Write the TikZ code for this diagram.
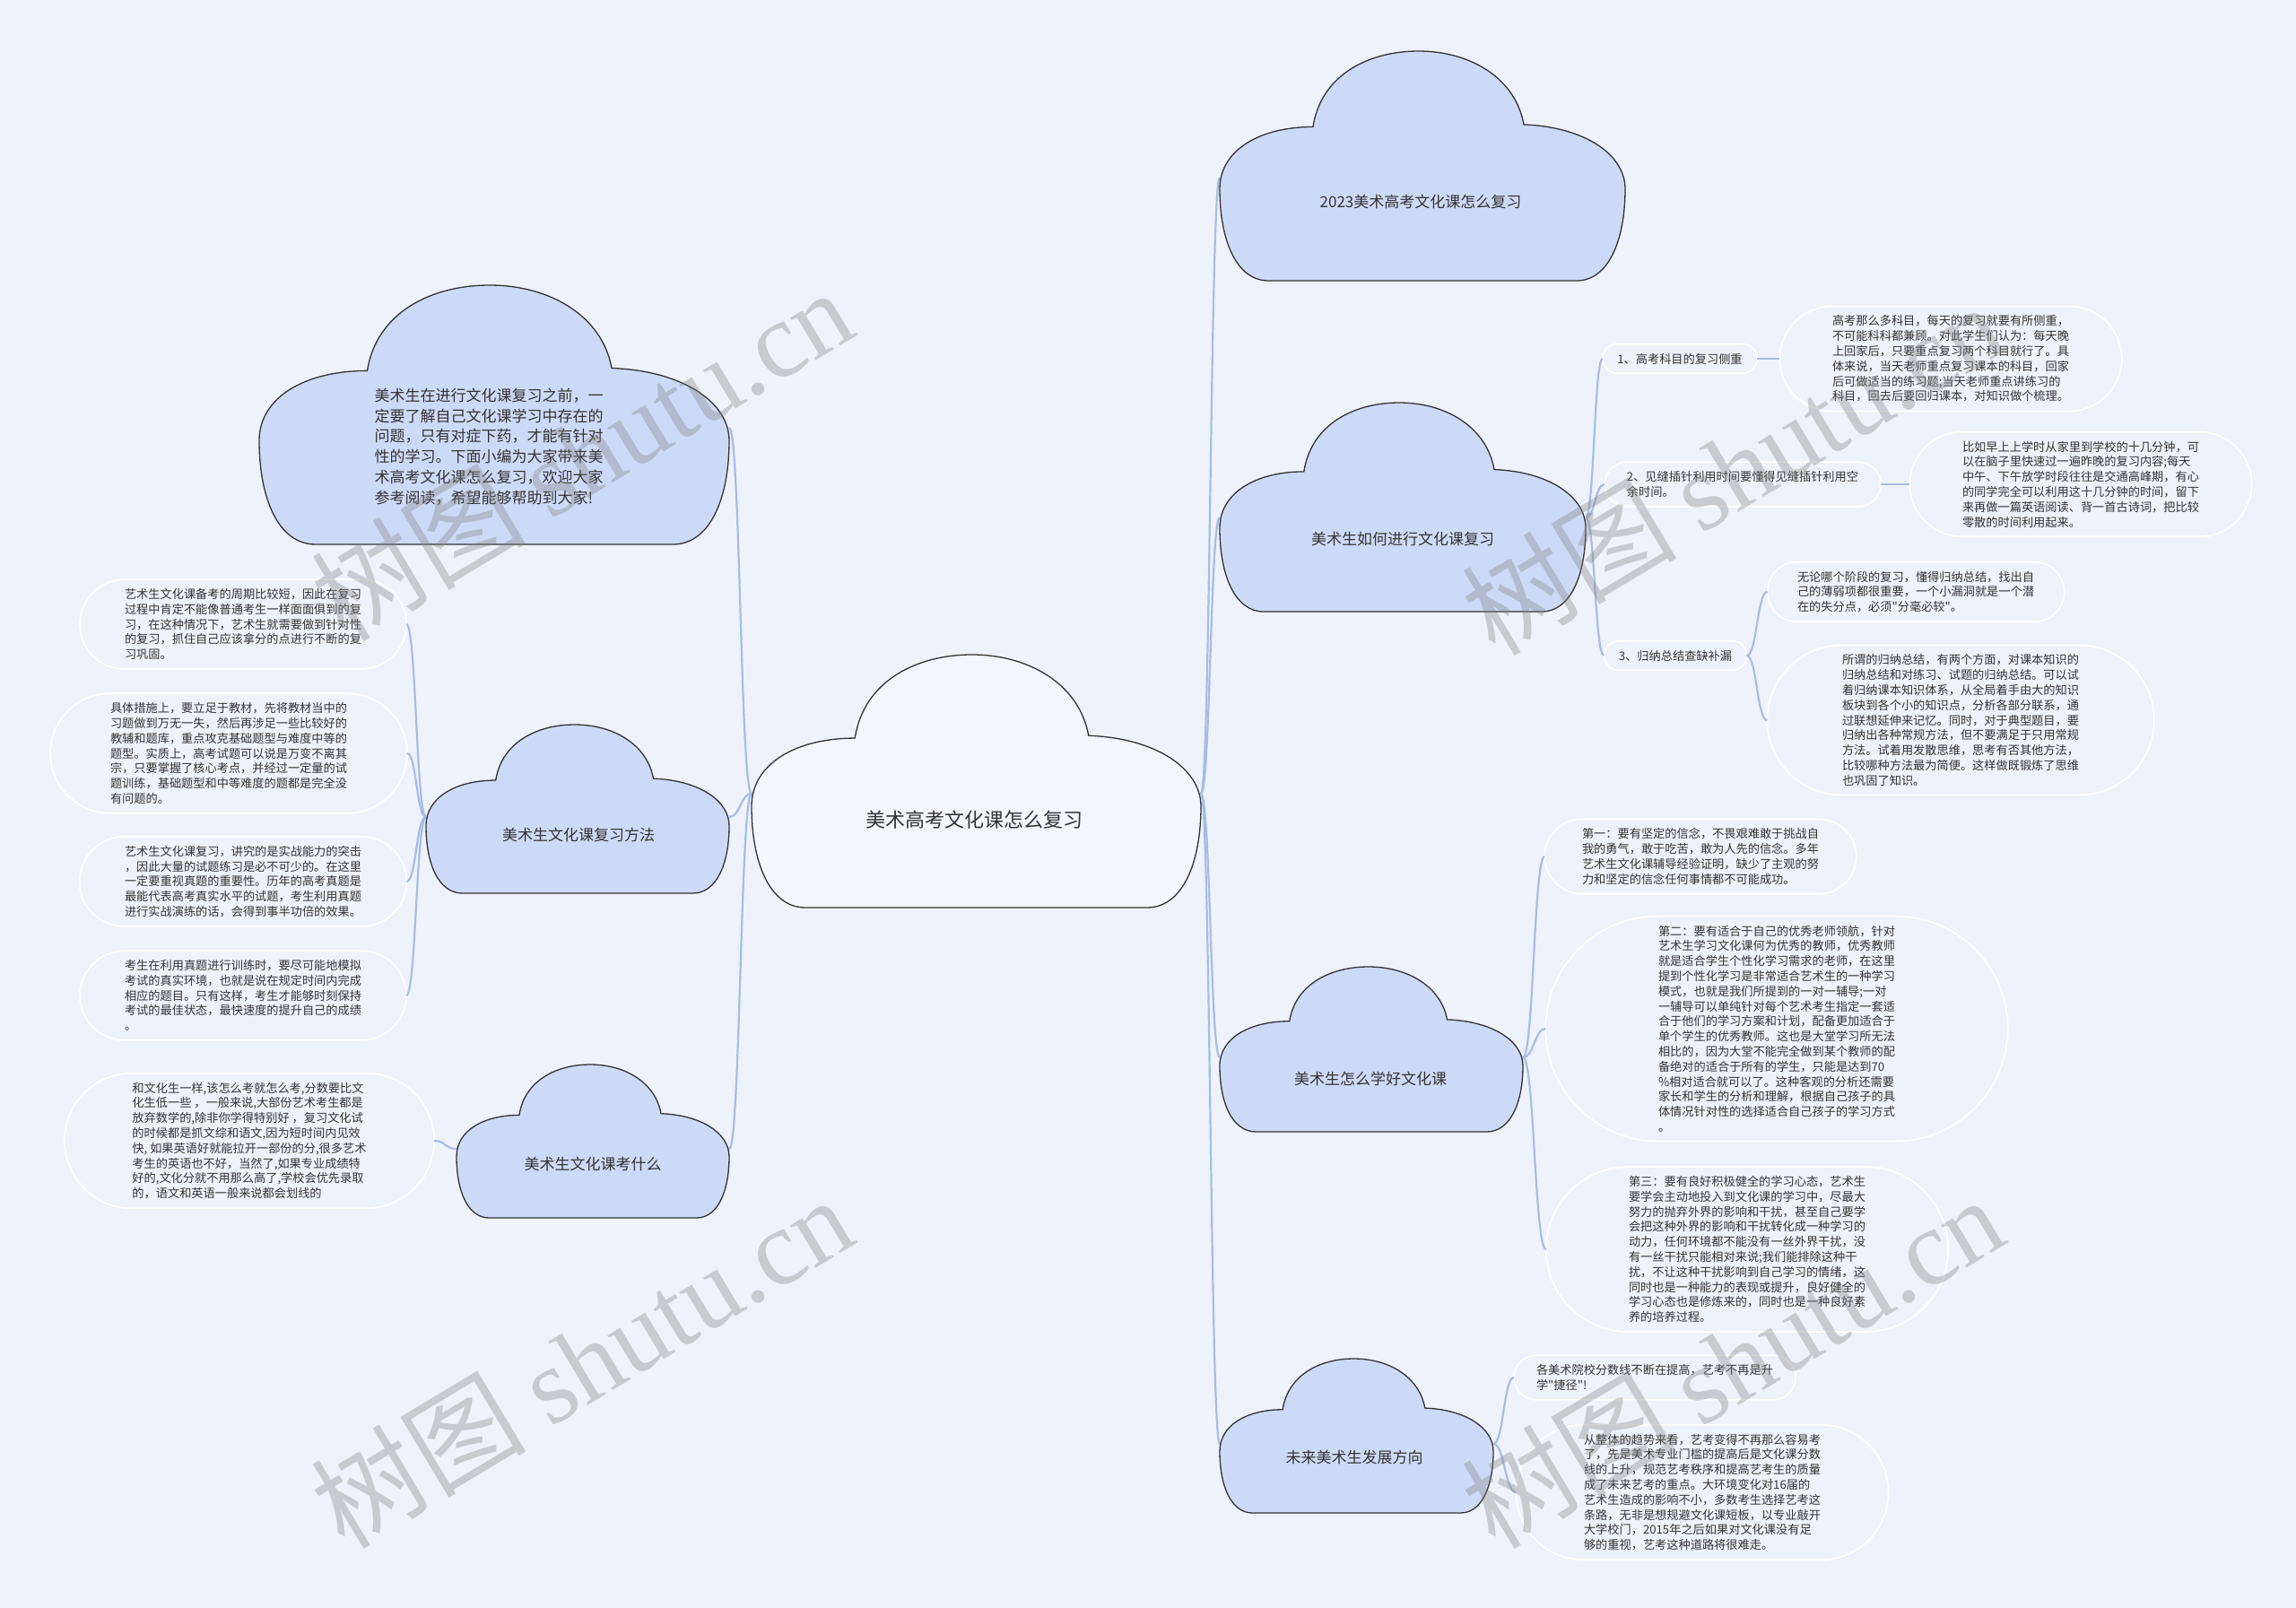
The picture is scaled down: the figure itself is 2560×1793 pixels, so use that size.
\documentclass[tikz,border=0pt]{standalone}
\usepackage{fontspec}
\setmainfont{Noto Sans CJK SC}[Ligatures=TeXOff]
\newfontfamily\wmfont{Liberation Serif}
\usetikzlibrary{calc}
\definecolor{bgc}{HTML}{EEF2FA}
\definecolor{cloudfill}{HTML}{CDDAF7}
\definecolor{centerfill}{HTML}{F3F6FD}
\definecolor{linec}{HTML}{A7BDE6}
\definecolor{outl}{HTML}{333333}
\definecolor{txt}{HTML}{333333}
\tikzset{
  cloudline/.style={draw=outl, line width=1.3pt, fill=cloudfill},
  centercloud/.style={draw=outl, line width=1.3pt, fill=centerfill},
  connector/.style={draw=linec, line width=2.2pt},
  pillline/.style={draw=white, line width=1.8pt},
  leaf/.style={rectangle, inner xsep=0pt, inner ysep=10pt, align=left, text=txt, font=\fontsize{13.2}{16.8}\selectfont},
  clabel/.style={inner sep=0pt, text=txt, font=\fontsize{17}{20}\selectfont},
  wm/.style={text=gray, opacity=0.35, inner sep=0pt, rotate=31, font=\fontsize{120}{120}\selectfont}
}
\newcommand\cloudpath[5]{%
\draw[#5] ({#1+0.12*#3},{#2+#4})
 .. controls ({#1+0.04*#3},{#2+#4}) and ({#1},{#2+0.82*#4}) .. ({#1},{#2+0.6*#4})
 .. controls ({#1},{#2+0.43*#4}) and ({#1+0.1*#3},{#2+0.33*#4}) .. ({#1+0.23*#3},{#2+0.33*#4})
 .. controls ({#1+0.25*#3},{#2+0.1*#4}) and ({#1+0.37*#3},{#2}) .. ({#1+0.49*#3},{#2})
 .. controls ({#1+0.62*#3},{#2}) and ({#1+0.73*#3},{#2+0.12*#4}) .. ({#1+0.75*#3},{#2+0.32*#4})
 .. controls ({#1+0.9*#3},{#2+0.33*#4}) and ({#1+#3},{#2+0.45*#4}) .. ({#1+#3},{#2+0.6*#4})
 .. controls ({#1+#3},{#2+0.82*#4}) and ({#1+0.96*#3},{#2+#4}) .. ({#1+0.88*#3},{#2+#4})
 -- cycle;}
\newcommand\pill[1]{%
\path let \p1=(#1.north), \p2=(#1.south), \n1={0.5*abs(\y1-\y2)} in
  coordinate (#1-w) at ($(#1.west)+(-\n1,0)$)
  coordinate (#1-e) at ($(#1.east)+(\n1,0)$);
\draw[pillline] let \p1=(#1.north), \p2=(#1.south), \n1={0.5*abs(\y1-\y2)}, \n2={0.5*abs(\y1-\y2)-0.05pt} in
  [rounded corners=\n2] ($(#1.north west)+(-\n1,0)$) rectangle ($(#1.south east)+(\n1,0)$);}
\newcommand\conn[2]{\draw[connector] (#1) .. controls ($(#1)!0.5!(#1 -| #2)$) and ($(#2)!0.5!(#2 -| #1)$) .. (#2);}
\begin{document}
\begin{tikzpicture}[x=1pt,y=-1pt]
\useasboundingbox (0,0) rectangle (2560,1793);
\fill[bgc] (0,0) rectangle (2560,1793);

% connection points on the clouds
\coordinate (c0w) at (838,885);
\coordinate (c0e) at (1339,885);
\coordinate (cl1e) at (813,477);
\coordinate (c2w) at (475,911);
\coordinate (c2e) at (813,911);
\coordinate (c3w) at (509,1281);
\coordinate (c3e) at (813,1281);
\coordinate (c4w) at (1360,198);
\coordinate (c5w) at (1360,577);
\coordinate (c5e) at (1768,577);
\coordinate (c6w) at (1360,1179);
\coordinate (c6e) at (1698,1179);
\coordinate (c7w) at (1360,1610);
\coordinate (c7e) at (1665,1610);

% leaves
\node[leaf] (l1) at (271,696) {艺术生文化课备考的周期比较短，因此在复习\\过程中肯定不能像普通考生一样面面俱到的复\\习，在这种情况下，艺术生就需要做到针对性\\的复习，抓住自己应该拿分的点进行不断的复\\习巩固。};
\node[leaf] (l2) at (255,840) {具体措施上，要立足于教材，先将教材当中的\\习题做到万无一失，然后再涉足一些比较好的\\教辅和题库，重点攻克基础题型与难度中等的\\题型。实质上，高考试题可以说是万变不离其\\宗，只要掌握了核心考点，并经过一定量的试\\题训练，基础题型和中等难度的题都是完全没\\有问题的。};
\node[leaf] (l3) at (271,983) {艺术生文化课复习，讲究的是实战能力的突击\\，因此大量的试题练习是必不可少的。在这里\\一定要重视真题的重要性。历年的高考真题是\\最能代表高考真实水平的试题，考生利用真题\\进行实战演练的话，会得到事半功倍的效果。};
\node[leaf] (l4) at (271,1110) {考生在利用真题进行训练时，要尽可能地模拟\\考试的真实环境，也就是说在规定时间内完成\\相应的题目。只有这样，考生才能够时刻保持\\考试的最佳状态，最快速度的提升自己的成绩\\。};
\node[leaf] (l5) at (278,1272) {和文化生一样,该怎么考就怎么考,分数要比文\\化生低一些 ，一般来说,大部份艺术考生都是\\放弃数学的,除非你学得特别好 ，复习文化试\\的时候都是抓文综和语文,因为短时间内见效\\快, 如果英语好就能拉开一部份的分,很多艺术\\考生的英语也不好，当然了,如果专业成绩特\\好的,文化分就不用那么高了,学校会优先录取\\的，语文和英语一般来说都会划线的};

\node[leaf] (rs1) at (1873,400) {1、高考科目的复习侧重};
\node[leaf] (rl1) at (2175,400) {高考那么多科目，每天的复习就要有所侧重，\\不可能科科都兼顾。对此学生们认为：每天晚\\上回家后，只要重点复习两个科目就行了。具\\体来说，当天老师重点复习课本的科目，回家\\后可做适当的练习题;当天老师重点讲练习的\\科目，回去后要回归课本，对知识做个梳理。};
\node[leaf] (rs2) at (1943,540) {2、见缝插针利用时间要懂得见缝插针利用空\\余时间。};
\node[leaf] (rl2) at (2320,540) {比如早上上学时从家里到学校的十几分钟，可\\以在脑子里快速过一遍昨晚的复习内容;每天\\中午、下午放学时段往往是交通高峰期，有心\\的同学完全可以利用这十几分钟的时间，留下\\来再做一篇英语阅读、背一首古诗词，把比较\\零散的时间利用起来。};
\node[leaf] (rs3) at (1868,731) {3、归纳总结查缺补漏};
\node[leaf] (rl3a) at (2136,660) {无论哪个阶段的复习，懂得归纳总结，找出自\\己的薄弱项都很重要，一个小漏洞就是一个潜\\在的失分点，必须"分毫必较"。};
\node[leaf] (rl3b) at (2186,803) {所谓的归纳总结，有两个方面，对课本知识的\\归纳总结和对练习、试题的归纳总结。可以试\\着归纳课本知识体系，从全局着手由大的知识\\板块到各个小的知识点，分析各部分联系，通\\过联想延伸来记忆。同时，对于典型题目，要\\归纳出各种常规方法，但不要满足于只用常规\\方法。试着用发散思维，思考有否其他方法，\\比较哪种方法最为简便。这样做既锻炼了思维\\也巩固了知识。};

\node[leaf] (rd1) at (1896,955) {第一：要有坚定的信念，不畏艰难敢于挑战自\\我的勇气，敢于吃苦，敢为人先的信念。多年\\艺术生文化课辅导经验证明，缺少了主观的努\\力和坚定的信念任何事情都不可能成功。};
\node[leaf] (rd2) at (1981,1147) {第二：要有适合于自己的优秀老师领航，针对\\艺术生学习文化课何为优秀的教师，优秀教师\\就是适合学生个性化学习需求的老师，在这里\\提到个性化学习是非常适合艺术生的一种学习\\模式，也就是我们所提到的一对一辅导;一对\\一辅导可以单纯针对每个艺术考生指定一套适\\合于他们的学习方案和计划，配备更加适合于\\单个学生的优秀教师。这也是大堂学习所无法\\相比的，因为大堂不能完全做到某个教师的配\\备绝对的适合于所有的学生，只能是达到70\\\%相对适合就可以了。这种客观的分析还需要\\家长和学生的分析和理解，根据自己孩子的具\\体情况针对性的选择适合自己孩子的学习方式\\。};
\node[leaf] (rd3) at (1948,1393) {第三：要有良好积极健全的学习心态，艺术生\\要学会主动地投入到文化课的学习中，尽最大\\努力的抛弃外界的影响和干扰，甚至自己要学\\会把这种外界的影响和干扰转化成一种学习的\\动力，任何环境都不能没有一丝外界干扰，没\\有一丝干扰只能相对来说;我们能排除这种干\\扰，不让这种干扰影响到自己学习的情绪，这\\同时也是一种能力的表现或提升，良好健全的\\学习心态也是修炼来的，同时也是一种良好素\\养的培养过程。};

\node[leaf] (rf1) at (1845,1536) {各美术院校分数线不断在提高，艺考不再是升\\学"捷径"!};
\node[leaf] (rf2) at (1898,1664) {从整体的趋势来看，艺考变得不再那么容易考\\了，先是美术专业门槛的提高后是文化课分数\\线的上升，规范艺考秩序和提高艺考生的质量\\成了未来艺考的重点。大环境变化对16届的\\艺术生造成的影响不小，多数考生选择艺考这\\条路，无非是想规避文化课短板，以专业敲开\\大学校门，2015年之后如果对文化课没有足\\够的重视，艺考这种道路将很难走。};

% pill outlines (semicircular ends) and their end points
\pill{l1}\pill{l2}\pill{l3}\pill{l4}\pill{l5}
\pill{rs1}\pill{rl1}\pill{rs2}\pill{rl2}\pill{rs3}\pill{rl3a}\pill{rl3b}
\pill{rd1}\pill{rd2}\pill{rd3}\pill{rf1}\pill{rf2}

% connectors
\conn{c0w}{cl1e}
\conn{c0w}{c2e}
\conn{c0w}{c3e}
\conn{c0e}{c4w}
\conn{c0e}{c5w}
\conn{c0e}{c6w}
\conn{c0e}{c7w}
\conn{c2w}{l1-e}
\conn{c2w}{l2-e}
\conn{c2w}{l3-e}
\conn{c2w}{l4-e}
\conn{c3w}{l5-e}
\conn{c5e}{rs1-w}
\conn{c5e}{rs2-w}
\conn{c5e}{rs3-w}
\conn{rs1-e}{rl1-w}
\conn{rs2-e}{rl2-w}
\conn{rs3-e}{rl3a-w}
\conn{rs3-e}{rl3b-w}
\conn{c6e}{rd1-w}
\conn{c6e}{rd2-w}
\conn{c6e}{rd3-w}
\conn{c7e}{rf1-w}
\conn{c7e}{rf2-w}

% clouds
\cloudpath{289}{318}{524}{289}{cloudline}
\cloudpath{838}{730}{501}{282}{centercloud}
\cloudpath{475}{808}{338}{188}{cloudline}
\cloudpath{509}{1187}{304}{171}{cloudline}
\cloudpath{1360}{57}{452}{256}{cloudline}
\cloudpath{1360}{449}{408}{233}{cloudline}
\cloudpath{1360}{1078}{338}{184}{cloudline}
\cloudpath{1360}{1515}{305}{172}{cloudline}

\node[clabel, align=left, font=\fontsize{17}{22.7}\selectfont] (intro) at (545,498) {美术生在进行文化课复习之前，一\\定要了解自己文化课学习中存在的\\问题，只有对症下药，才能有针对\\性的学习。下面小编为大家带来美\\术高考文化课怎么复习，欢迎大家\\参考阅读，希望能够帮助到大家!};
\node[clabel, font=\fontsize{22}{26}\selectfont] (center) at (1086,914) {美术高考文化课怎么复习};
\node[clabel] (k2) at (645,931) {美术生文化课复习方法};
\node[clabel] (k3) at (661,1298) {美术生文化课考什么};
\node[clabel] (k4) at (1584,225) {2023美术高考文化课怎么复习};
\node[clabel] (k5) at (1564,601) {美术生如何进行文化课复习};
\node[clabel] (k6) at (1528,1203) {美术生怎么学好文化课};
\node[clabel] (k7) at (1510,1625) {未来美术生发展方向};

% watermarks
\node[wm] (wm1) at (648,506) {树图 {\wmfont shutu.cn}};
\node[wm] (wm2) at (1931,522) {树图 {\wmfont shutu.cn}};
\node[wm] (wm3) at (648,1518) {树图 {\wmfont shutu.cn}};
\node[wm] (wm4) at (1931,1518) {树图 {\wmfont shutu.cn}};
\end{tikzpicture}
\end{document}
